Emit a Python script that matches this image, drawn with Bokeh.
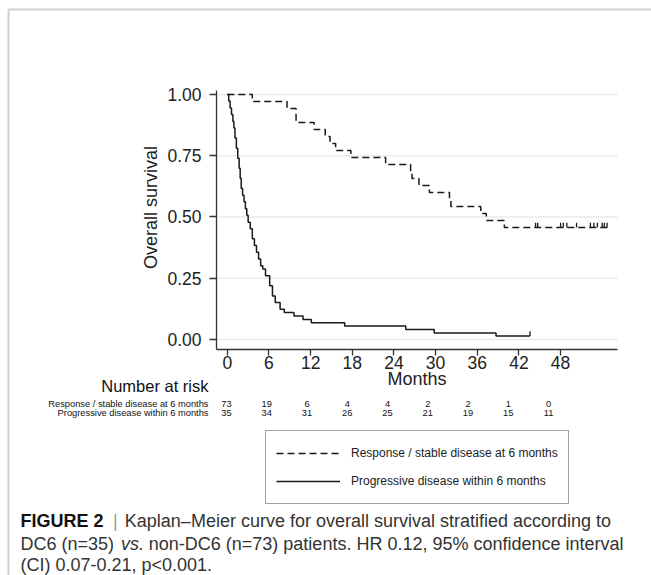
import math
from bokeh.plotting import figure
from bokeh.models import (Legend, LegendItem, Range1d, FixedTicker, PrintfTickFormatter,
                          LinearAxis)
from bokeh.core.properties import value
from bokeh.embed import file_html
from bokeh.resources import INLINE

# ---------------- data ----------------
# Response / stable disease at 6 months (dashed)
resp_time = [0, 3.6, 8.6, 9.9, 12.5, 14.1, 14.8, 15.6, 17.8, 22.8, 26.4, 26.6, 27.6, 29.1,
             32.0, 32.2, 36.5, 37.3, 39.9, 54.9]
resp_surv = [1.0, 0.971, 0.943, 0.886, 0.857, 0.829, 0.800, 0.771, 0.743, 0.714, 0.686, 0.657,
             0.629, 0.600, 0.571, 0.543, 0.514, 0.486, 0.457, 0.457]
resp_cens_time = [44.4, 44.7, 48.0, 48.4, 48.9, 50.3, 52.3, 52.8, 53.3, 54.0, 54.3, 54.7]
resp_cens_surv = [0.457] * len(resp_cens_time)

# Progressive disease within 6 months (solid)
prog_time = [0, 0.2, 0.4, 0.6, 0.8, 0.95, 1.1, 1.3, 1.5, 1.7, 1.85, 2.0, 2.2, 2.4, 2.6, 2.8,
             3.0, 3.3, 3.6, 3.9, 4.2, 4.5, 4.8, 5.1, 5.5, 6.1, 6.5, 6.9, 7.6, 8.2, 9.6, 10.9,
             12.1, 16.9, 25.7, 29.8, 38.7, 43.6]
prog_surv = [1.0, 0.973, 0.945, 0.918, 0.890, 0.863, 0.822, 0.781, 0.740, 0.699, 0.658, 0.616,
             0.589, 0.562, 0.534, 0.507, 0.479, 0.452, 0.411, 0.384, 0.356, 0.329, 0.301,
             0.288, 0.260, 0.219, 0.178, 0.151, 0.123, 0.110, 0.096, 0.082, 0.068, 0.055,
             0.041, 0.027, 0.014, 0.014]
prog_cens_time = [43.6]
prog_cens_surv = [0.014]

x_ticks = [0, 6, 12, 18, 24, 30, 36, 42, 48]
y_ticks = [0.0, 0.25, 0.5, 0.75, 1.0]
x_title = "Months"
y_title = "Overall survival"

risk_times = [0, 6, 12, 18, 24, 30, 36, 42, 48]
risk_title = "Number at risk"
risk_row1_label = "Response / stable disease at 6 months"
risk_row1 = [73, 19, 6, 4, 4, 2, 2, 1, 0]
risk_row2_label = "Progressive disease within 6 months"
risk_row2 = [35, 34, 31, 26, 25, 21, 19, 15, 11]

legend_labels = ["Response / stable disease at 6 months", "Progressive disease within 6 months"]

caption_line1 = ["FIGURE 2", "|", "Kaplan\u2013Meier curve for overall survival stratified according to"]
caption_line2 = ["DC6 (n=35)", "vs.", "non-DC6 (n=73) patients. HR 0.12, 95% confidence interval"]
caption_line3 = "(CI) 0.07-0.21, p<0.001."

# ---------------- styling helpers ----------------
FONT = "Liberation Sans"
INK = "#1a1a1a"
AW = {' ': 278, '!': 278, '(': 333, ')': 333, ',': 278, '-': 333, '.': 278, '/': 278, '%': 889,
      '<': 584, '=': 584, '|': 260, '\u2013': 556}
for c in "0123456789":
    AW[c] = 556
AW.update(dict(zip("ABCDEFGHIJKLMNOPQRSTUVWXYZ",
                   [667, 667, 722, 722, 667, 611, 778, 722, 278, 500, 667, 556, 833, 722, 778,
                    667, 778, 722, 667, 611, 722, 667, 944, 667, 667, 611])))
AW.update(dict(zip("abcdefghijklmnopqrstuvwxyz",
                   [556, 556, 500, 556, 556, 278, 556, 556, 222, 222, 500, 222, 833, 556, 556,
                    556, 556, 333, 500, 278, 556, 500, 722, 500, 500, 500])))


def tw(s, size):
    return 1.03 * sum(AW.get(c, 556) for c in s) / 1000.0 * size


W, H = 651, 575
# plot-region geometry (pixels) and data extents
PL, PR, PT, PB = 216, 617, 90, 349
X0, X1 = -1.56, 56.2
Y0, Y1 = -0.0408, 1.0163
ppx = (PR - PL) / (X1 - X0)
ppy = (PB - PT) / (Y1 - Y0)

p = figure(width=W, height=H, output_backend="svg", toolbar_location=None, title=None,
           x_range=Range1d(X0 - PL / ppx, X1 + (W - PR) / ppx),
           y_range=Range1d(Y0 - (H - PB) / ppy, Y1 + PT / ppy),
           x_axis_type=None, y_axis_type=None,
           min_border=0, min_border_left=0, min_border_right=0, min_border_top=0,
           min_border_bottom=0)
p.outline_line_color = None
p.background_fill_color = "white"
p.border_fill_color = "white"
p.extra_x_ranges = {"px": Range1d(0, W),
                    # Stata's risk-table columns are slightly narrower than the axis
                    "risk": Range1d(-226 / 6.708, (W - 226) / 6.708)}
p.extra_y_ranges = {"py": Range1d(H, 0)}

# axes drawn at fixed locations
xax = LinearAxis(fixed_location=Y0, bounds=(X0, X1), ticker=FixedTicker(ticks=x_ticks),
                 axis_label=x_title)
yax = LinearAxis(fixed_location=X0, bounds=(Y0, Y1), ticker=FixedTicker(ticks=y_ticks),
                 formatter=PrintfTickFormatter(format="%.2f"))
for ax in (xax, yax):
    ax.axis_line_color = "#333333"
    ax.axis_line_width = 1.3
    ax.major_tick_line_color = "#333333"
    ax.major_tick_line_width = 1.3
    ax.major_tick_in = 0
    ax.minor_tick_line_color = None
    ax.major_label_text_font = FONT
    ax.major_label_text_font_size = "17.5px"
    ax.major_label_text_color = "#222222"
    ax.axis_label_text_font = FONT
    ax.axis_label_text_font_size = "18px"
    ax.axis_label_text_font_style = "normal"
    ax.axis_label_text_color = "#222222"
xax.major_tick_out = 6
xax.major_label_standoff = 0
xax.axis_label_standoff = -3
yax.major_tick_out = 7
yax.major_label_standoff = 8
yax.major_label_orientation = "horizontal"
p.add_layout(xax, "below")
p.add_layout(yax, "left")

# y-axis title (Stata centres it a little above the axis midpoint)
p.text(x=[150], y=[207], text=[y_title], x_range_name="px", y_range_name="py",
       angle=math.pi / 2, text_font=value(FONT), text_font_size="18px",
       text_align="center", text_baseline="middle", text_color="#222222")

# horizontal grid lines across the plot region
p.segment(x0=[X0] * len(y_ticks), x1=[X1] * len(y_ticks), y0=y_ticks, y1=y_ticks,
          line_color="#e4ecef", line_width=1.5)

# outer panel frame (top and left edges)
p.segment(x0=[8, 8], y0=[9, 9], x1=[W, 8], y1=[9, H], x_range_name="px", y_range_name="py",
          line_color="#cfcfcf", line_width=2)

# curves
r_resp = p.step(resp_time, resp_surv, mode="after", line_color=INK, line_width=1.5,
                line_dash="7 4")
p.segment(x0=resp_cens_time, y0=resp_cens_surv, x1=resp_cens_time,
          y1=[s + 0.02 for s in resp_cens_surv], line_color=INK, line_width=1.3)
r_prog = p.step(prog_time, prog_surv, mode="after", line_color=INK, line_width=1.5)
p.segment(x0=prog_cens_time, y0=prog_cens_surv, x1=prog_cens_time,
          y1=[s + 0.02 for s in prog_cens_surv], line_color=INK, line_width=1.3)

# number at risk table
p.text(x=[208], y=[385], text=[risk_title], x_range_name="px", y_range_name="py",
       text_font=value(FONT), text_font_size="16.5px", text_align="right",
       text_baseline="middle", text_color="#111111")
for lab, row, yy in ((risk_row1_label, risk_row1, 403), (risk_row2_label, risk_row2, 412.5)):
    p.text(x=[208], y=[yy], text=[lab], x_range_name="px", y_range_name="py",
           text_font=value(FONT), text_font_size="9.3px", text_align="right",
           text_baseline="middle", text_color="#111111")
    p.text(x=risk_times, y=[yy] * len(risk_times), text=[str(n) for n in row],
           x_range_name="risk", y_range_name="py", text_font=value(FONT),
           text_font_size="9.3px", text_align="center", text_baseline="middle",
           text_color="#111111")

# legend box below the risk table
legend = Legend(items=[LegendItem(label=legend_labels[0], renderers=[r_resp]),
                       LegendItem(label=legend_labels[1], renderers=[r_prog])],
                location=(265, H - 504), orientation="vertical",
                border_line_color="#444444", border_line_width=1.2,
                background_fill_color="white", background_fill_alpha=1,
                label_text_font=FONT, label_text_font_size="12px", label_text_color="#222222",
                glyph_width=64, glyph_height=24, label_height=24, spacing=4, padding=10,
                margin=0, label_standoff=11)
p.add_layout(legend, "center")

# caption
CS = 18
cx0 = 20
l1, l2, l3 = 520, 543, 564
SP = 0.8 * tw(" ", CS)
xb = cx0 + tw(caption_line1[0], CS) + 7
xt = xb + tw(caption_line1[1], CS) + 7
p.text(x=[cx0], y=[l1], text=[caption_line1[0]], x_range_name="px", y_range_name="py",
       text_font=value(FONT), text_font_size=f"{CS}px", text_font_style="bold",
       text_baseline="middle", text_color="#111111")
p.text(x=[xb], y=[l1], text=[caption_line1[1]], x_range_name="px", y_range_name="py",
       text_font=value(FONT), text_font_size=f"{CS}px", text_baseline="middle",
       text_color="#9a9a9a")
p.text(x=[xt], y=[l1], text=[caption_line1[2]], x_range_name="px", y_range_name="py",
       text_font=value(FONT), text_font_size=f"{CS}px", text_baseline="middle",
       text_color="#333333")
xa = cx0
for seg, style in zip(caption_line2, ["normal", "italic", "normal"]):
    p.text(x=[xa], y=[l2], text=[seg], x_range_name="px", y_range_name="py",
           text_font=value(FONT), text_font_size=f"{CS}px", text_font_style=style,
           text_baseline="middle", text_color="#333333")
    xa += tw(seg, CS) + SP
p.text(x=[cx0], y=[l3], text=[caption_line3], x_range_name="px", y_range_name="py",
       text_font=value(FONT), text_font_size=f"{CS}px", text_baseline="middle",
       text_color="#333333")

open("out.html", "w").write(file_html(p, INLINE))
